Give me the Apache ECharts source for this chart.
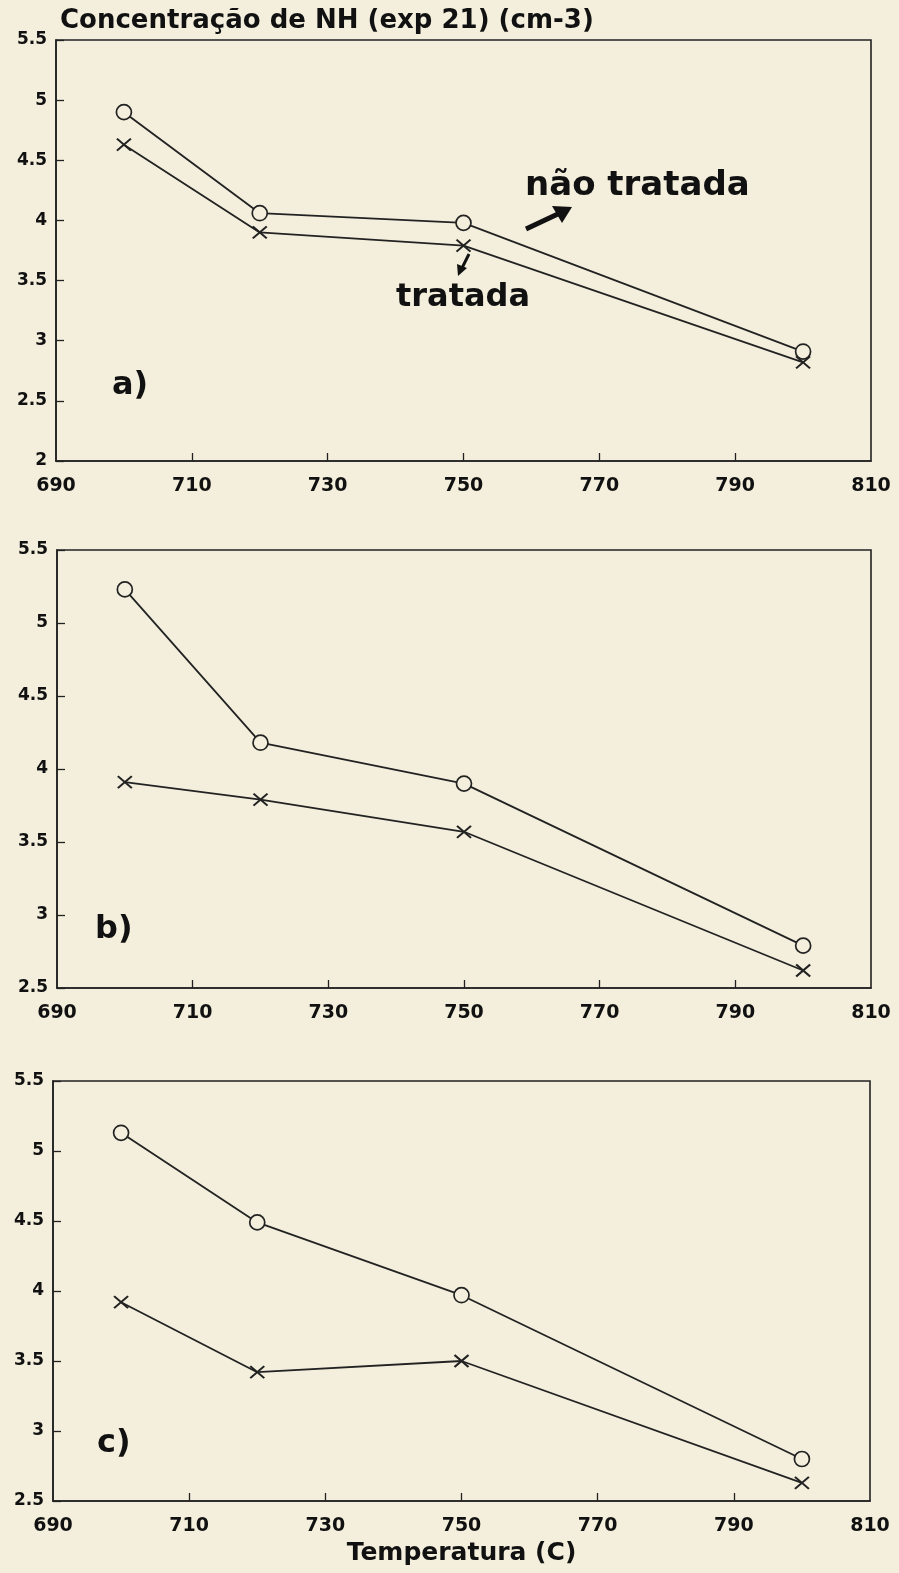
<!DOCTYPE html>
<html>
<head>
<meta charset="utf-8">
<script src="https://cdn.jsdelivr.net/npm/echarts@6/dist/echarts.min.js"></script>
<style>
  html, body { margin: 0; padding: 0; background: #f3efdc; }
  #chart { width: 899px; height: 1573px; }
</style>
</head>
<body>
<div id="chart"></div>
<script>
// temperatures (C)
var temps = [700, 720, 750, 800];
var xTickLabels = [690, 710, 730, 750, 770, 790, 810];
var xTickMarks = [710, 730, 750, 770, 790];

// NH concentration (exp 21 cm-3)
var aNaoTratada = [4.90, 4.06, 3.98, 2.91];
var aTratada    = [4.63, 3.90, 3.79, 2.82];
var bNaoTratada = [5.23, 4.18, 3.90, 2.79];
var bTratada    = [3.91, 3.79, 3.57, 2.62];
var cNaoTratada = [5.13, 4.49, 3.97, 2.80];
var cTratada    = [3.92, 3.42, 3.50, 2.63];

var panelNames = ['a)', 'b)', 'c)'];

var ink = '#222';
var paper = '#f3efdc';
var font = 'DejaVu Sans';

function pairs(vals) {
  return temps.map(function (t, i) { return [t, vals[i]]; });
}

// one grid per panel
var grids = [
  { left: 56, right: 28, top: 40, height: 421 },
  { left: 57, right: 28, top: 550, height: 438 },
  { left: 53, right: 29, top: 1081, height: 420 }
];
var yMins = [2, 2.5, 2.5];

var xAxes = grids.map(function (g, i) {
  var ax = {
    type: 'value', gridIndex: i, min: 690, max: 810,
    axisLine: { show: true, lineStyle: { color: ink, width: 1.6 } },
    axisTick: { show: true, inside: true, length: 8, customValues: xTickMarks, lineStyle: { color: ink, width: 1.3 } },
    axisLabel: { customValues: xTickLabels, margin: 16, color: '#111', fontFamily: font, fontWeight: 'bold', fontSize: 19 },
    splitLine: { show: false }
  };
  if (i === 2) {
    ax.name = 'Temperatura (C)';
    ax.nameLocation = 'middle';
    ax.nameGap = 40;
    ax.nameTextStyle = { color: '#111', fontFamily: font, fontWeight: 'bold', fontSize: 25 };
  }
  return ax;
});

var yAxes = grids.map(function (g, i) {
  return {
    type: 'value', gridIndex: i, min: yMins[i], max: 5.5, interval: 0.5,
    axisLine: { show: true, lineStyle: { color: ink, width: 1.6 } },
    axisTick: { show: true, inside: true, length: 8, lineStyle: { color: ink, width: 1.3 } },
    axisLabel: { margin: 9, color: '#111', fontFamily: font, fontWeight: 'bold', fontSize: 17,
      formatter: function (v) { return String(v); } },
    splitLine: { show: false }
  };
});

var crossPath = 'path://M0,0 L10,10 M10,0 L0,10';
var sets = [[aNaoTratada, aTratada], [bNaoTratada, bTratada], [cNaoTratada, cTratada]];
var series = [];
sets.forEach(function (s, i) {
  series.push({
    name: 'não tratada', type: 'line', xAxisIndex: i, yAxisIndex: i,
    data: pairs(s[0]), symbol: 'circle', symbolSize: 15,
    lineStyle: { color: ink, width: 1.8 },
    itemStyle: { color: paper, borderColor: ink, borderWidth: 1.7 },
    z: 3
  });
  series.push({
    name: 'tratada', type: 'line', xAxisIndex: i, yAxisIndex: i,
    data: pairs(s[1]), symbol: crossPath, symbolSize: [14, 12],
    lineStyle: { color: ink, width: 1.8 },
    itemStyle: { color: ink, borderColor: ink, borderWidth: 2 },
    z: 3
  });
});

function label(txt, x, y, size) {
  return { type: 'text', x: x, y: y, z: 10,
    style: { text: txt, fill: '#111', font: 'bold ' + size + 'px "' + font + '"', textVerticalAlign: 'middle' } };
}

var graphics = [
  label(panelNames[0], 112, 386, 32),
  label(panelNames[1], 95, 930, 32),
  label(panelNames[2], 97, 1444, 32),
  label('não tratada', 525, 186, 34),
  label('tratada', 396, 298, 32),
  // arrow to "não tratada"
  { type: 'polyline', z: 10, shape: { points: [[526, 229], [560, 213]] }, style: { stroke: '#111', lineWidth: 5 } },
  { type: 'polygon', z: 10, shape: { points: [[572, 207], [552, 206], [562, 223]] }, style: { fill: '#111' } },
  // arrow to "tratada"
  { type: 'polyline', z: 10, shape: { points: [[469, 254], [462, 268]] }, style: { stroke: '#111', lineWidth: 3 } },
  { type: 'polygon', z: 10, shape: { points: [[458, 276], [457, 264], [467, 268]] }, style: { fill: '#111' } }
];

var option = {
  backgroundColor: paper,
  animation: false,
  title: {
    text: 'Concentração de NH (exp 21) (cm-3)', left: 55, top: 3,
    textStyle: { color: '#111', fontFamily: font, fontWeight: 'bold', fontSize: 26 }
  },
  grid: grids.map(function (g) {
    return { left: g.left, right: g.right, top: g.top, height: g.height,
      show: true, borderColor: ink, borderWidth: 1.6, backgroundColor: 'transparent' };
  }),
  xAxis: xAxes,
  yAxis: yAxes,
  series: series,
  graphic: graphics
};

var myChart = echarts.init(document.getElementById('chart'));
myChart.setOption(option);
</script>
</body>
</html>
